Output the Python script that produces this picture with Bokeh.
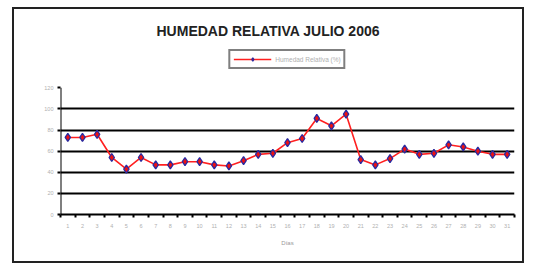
from bokeh.plotting import figure
from bokeh.models import FixedTicker, Legend, LegendItem, Range1d, Label
from bokeh.embed import file_html
from bokeh.resources import INLINE

days = list(range(1, 32))
humedad = [73, 73, 76, 54, 43, 54, 47, 47, 50, 50, 47, 46, 51, 57, 58, 68,
           72, 91, 84, 95, 52, 47, 53, 62, 57, 58, 66, 64, 60, 57, 57]
y_ticks = [0, 20, 40, 60, 80, 100, 120]
grid_ticks = [0, 20, 40, 60, 80, 100]
title_text = "HUMEDAD RELATIVA JULIO 2006"
series_name = "Humedad Relativa (%)"
x_title = "Días"
y_title = "-"

p = figure(width=512, height=256, output_backend="svg", toolbar_location=None,
           x_range=Range1d(0.5, 31.5), y_range=Range1d(0, 156.3),
           min_border_left=46, min_border_right=12, min_border_top=37,
           min_border_bottom=51)
p.margin = (7, 0, 0, 12)
p.styles = {"border": "2px solid #222222"}
p.outline_line_color = None
p.background_fill_color = "white"
p.border_fill_color = "white"

# axes
p.yaxis.ticker = FixedTicker(ticks=y_ticks)
p.xaxis.ticker = FixedTicker(ticks=days, minor_ticks=[d + 0.5 for d in range(0, 32)])
p.xaxis.axis_line_color = "#000000"
p.yaxis.axis_line_color = None
p.xaxis.axis_line_width = 2
p.xaxis.major_label_text_font = "Liberation Sans"
p.yaxis.major_label_text_font = "Liberation Sans"
p.xaxis.major_label_text_font_size = "5.5px"
p.yaxis.major_label_text_font_size = "5.5px"
p.xaxis.major_label_text_color = "#b0b0b0"
p.yaxis.major_label_text_color = "#b0b0b0"

p.xaxis.major_tick_out = 0
p.xaxis.major_tick_in = 0
p.xaxis.minor_tick_out = 3
p.xaxis.minor_tick_in = 0
p.xaxis.minor_tick_line_color = "#000000"
p.xaxis.minor_tick_line_width = 2
p.xaxis.major_label_standoff = 6
p.xaxis.axis_label = x_title
p.xaxis.axis_label_text_font = "Liberation Sans"
p.xaxis.axis_label_text_font_style = "normal"
p.xaxis.axis_label_text_font_size = "6px"
p.xaxis.axis_label_text_color = "#999999"
p.xaxis.axis_label_standoff = 9

p.yaxis.major_tick_out = 3
p.yaxis.major_tick_in = 0
p.yaxis.major_tick_line_color = "#000000"
p.yaxis.major_tick_line_width = 2
p.yaxis.minor_tick_line_color = None
p.yaxis.major_label_standoff = 4

# value-axis line, limited to the tick span (0 .. 120)
p.segment(x0=[p.x_range.start], y0=[y_ticks[0]], x1=[p.x_range.start], y1=[y_ticks[-1]],
          line_color="#000000", line_width=2)

# y axis title, placed beside the axis at mid height
p.add_layout(Label(x=0.5, y=60, x_offset=-29, text=y_title,
                   text_align="center", text_baseline="middle",
                   text_font="Liberation Sans", text_font_size="10px",
                   text_font_style="bold", text_color="#222222"))

p.xgrid.grid_line_color = None
p.ygrid.ticker = FixedTicker(ticks=grid_ticks)
p.ygrid.grid_line_color = "black"
p.ygrid.grid_line_width = 2

# series
ln = p.line(days, humedad, line_color="#ff2020", line_width=1.6)
mk = p.scatter(days, humedad, marker="diamond", size=8, fill_color="#ee1111",
               line_color="#2a2aa0", line_width=1.3)

# title
p.title.text = title_text
p.title.align = "left"
p.title.text_font = "Liberation Sans"
p.title.text_font_size = "14px"
p.title.text_font_style = "bold"
p.title.text_color = "#222222"
p.title.offset = 90
p.title.standoff = 10
p.title.padding = 6

legend = Legend(items=[LegendItem(label=series_name, renderers=[ln, mk])],
                location="top_center", orientation="horizontal",
                border_line_color="black", border_line_width=2,
                label_text_font="Liberation Sans", label_text_font_size="6.5px",
                label_text_color="#b0b0b0", glyph_width=38, glyph_height=8,
                label_height=10, padding=3, margin=0, spacing=0,
                label_standoff=4, background_fill_alpha=1)
p.add_layout(legend, "center")

open("out.html", "w").write(file_html(p, INLINE))
